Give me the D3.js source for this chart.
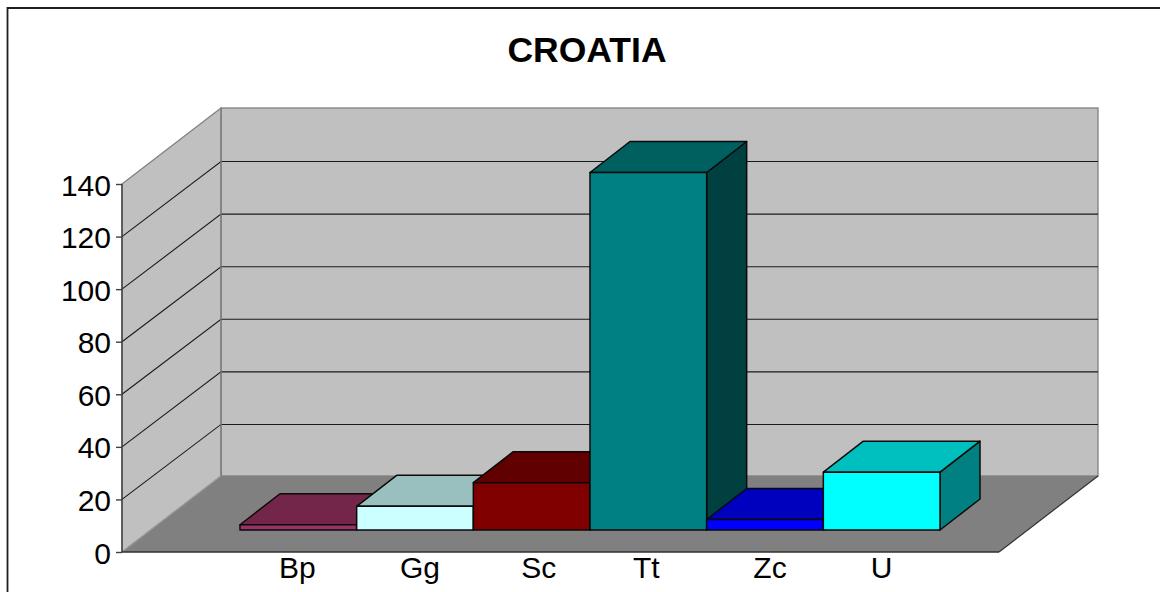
<!DOCTYPE html>
<html>
<head>
<meta charset="utf-8">
<script src="https://cdnjs.cloudflare.com/ajax/libs/d3/7.8.5/d3.min.js"></script>
<style>
html,body{margin:0;padding:0;background:#fff;overflow:hidden}
svg{display:block}
text{font-family:"Liberation Sans",Arial,sans-serif;fill:#000}
</style>
</head>
<body>
<svg id="c" width="1160" height="592"></svg>
<script>
const title = "CROATIA";
const categories = ["Bp","Gg","Sc","Tt","Zc","U"];
const values = [2,9,18,136,4,22];
const frontColors = ["#993366","#CCFFFF","#800000","#008080","#0000FF","#00FFFF"];
const topColors   = ["#732649","#99BFBF","#600000","#006060","#0000BF","#00BFBF"];
const sideColors  = ["#4D1A33","#668080","#400000","#004040","#000080","#008080"];
const yTicks = [0,20,40,60,80,100,120,140];

const svg = d3.select("#c");
const y = d3.scaleLinear().domain([0,140]).range([552,184]);
const x = d3.scaleBand().domain(categories).range([240,940]).paddingInner(0).paddingOuter(0);
const floorLeft = 122, floorRight = 999;
const wallDx = 99, wallDy = 76, gridDy = 75;
const barDx = 40, barDy = 31, barLift = 22;
const poly = p => p.map(d => d.join(",")).join(" ");

// frame
svg.append("path").attr("d","M7.5,592V8H1160").attr("fill","none").attr("stroke","#202020").attr("stroke-width",1.8);

// title
svg.append("text").attr("x",587).attr("y",62).attr("text-anchor","middle")
  .attr("font-size",35.5).attr("font-weight","bold").text(title);

const top0 = y(140), bot0 = y(0);
// back wall
svg.append("rect").attr("x",floorLeft+wallDx).attr("y",top0-wallDy)
  .attr("width",floorRight-floorLeft).attr("height",bot0-top0)
  .attr("fill","#C0C0C0").attr("stroke","#808080").attr("stroke-width",1.3);
// side wall
svg.append("polygon").attr("points",poly([[floorLeft,top0],[floorLeft+wallDx,top0-wallDy],[floorLeft+wallDx,bot0-wallDy],[floorLeft,bot0]]))
  .attr("fill","#C0C0C0").attr("stroke","#808080").attr("stroke-width",1.3);
// floor
svg.append("polygon").attr("points",poly([[floorLeft,bot0],[floorLeft+wallDx,bot0-wallDy],[floorRight+wallDx,bot0-wallDy],[floorRight,bot0]]))
  .attr("fill","#808080");
svg.append("line").attr("x1",floorRight).attr("y1",bot0).attr("x2",floorRight+wallDx).attr("y2",bot0-wallDy)
  .attr("stroke","#303030").attr("stroke-width",1.2);
svg.append("line").attr("x1",floorLeft).attr("y1",bot0).attr("x2",floorLeft+wallDx).attr("y2",bot0-wallDy)
  .attr("stroke","#a0a0a0").attr("stroke-width",1);

// gridlines
const grid = yTicks.filter(t => t>0 && t<140);
svg.append("g").selectAll("path").data(grid).join("path")
  .attr("d",t => `M${floorLeft},${y(t)}L${floorLeft+wallDx},${y(t)-gridDy}H${floorRight+wallDx}`)
  .attr("fill","none").attr("stroke","#1a1a1a").attr("stroke-width",1.1);
svg.append("path").attr("d",`M${floorLeft+wallDx},${top0-wallDy}V${bot0-wallDy}`).attr("stroke","#808080").attr("stroke-width",1.3);

// bars
const bars = svg.append("g").selectAll("g").data(categories).join("g")
  .attr("stroke","#0a0a0a").attr("stroke-width",1.5).attr("stroke-linejoin","round");
bars.each(function(c,i){
  const g = d3.select(this);
  const l = x(c), r = l + x.bandwidth();
  const b = y(0)-barLift, t = y(values[i])-barLift;
  g.append("polygon").attr("fill",sideColors[i]).attr("points",poly([[r,b],[r,t],[r+barDx,t-barDy],[r+barDx,b-barDy]]));
  g.append("polygon").attr("fill",topColors[i]).attr("points",poly([[l,t],[l+barDx,t-barDy],[r+barDx,t-barDy],[r,t]]));
  g.append("rect").attr("fill",frontColors[i]).attr("x",l).attr("y",t).attr("width",r-l).attr("height",b-t);
});

// value axis
const yAxis = d3.axisLeft(y).tickValues(yTicks).tickSize(6).tickPadding(5);
const ga = svg.append("g").attr("transform",`translate(${floorLeft},0)`).call(yAxis);
ga.selectAll("path,line").attr("stroke","#404040").attr("stroke-width",1.4);
ga.select(".domain").attr("d",`M0,${top0}V${bot0}`);
ga.selectAll("text").attr("font-size",30).attr("fill","#000").attr("dy","0.37em")
  .style("font-family",'"Liberation Sans",Arial,sans-serif');
svg.append("line").attr("x1",floorLeft).attr("y1",bot0).attr("x2",floorRight).attr("y2",bot0)
  .attr("stroke","#303030").attr("stroke-width",1.4);

// category labels
const labelNudge = [-1,5,7,-2,5,0];
svg.append("g").selectAll("text").data(categories).join("text")
  .attr("x",(c,i)=>x(c)+x.bandwidth()/2+labelNudge[i]).attr("y",578)
  .attr("text-anchor","middle").attr("font-size",30).text(c=>c);
</script>
</body>
</html>
